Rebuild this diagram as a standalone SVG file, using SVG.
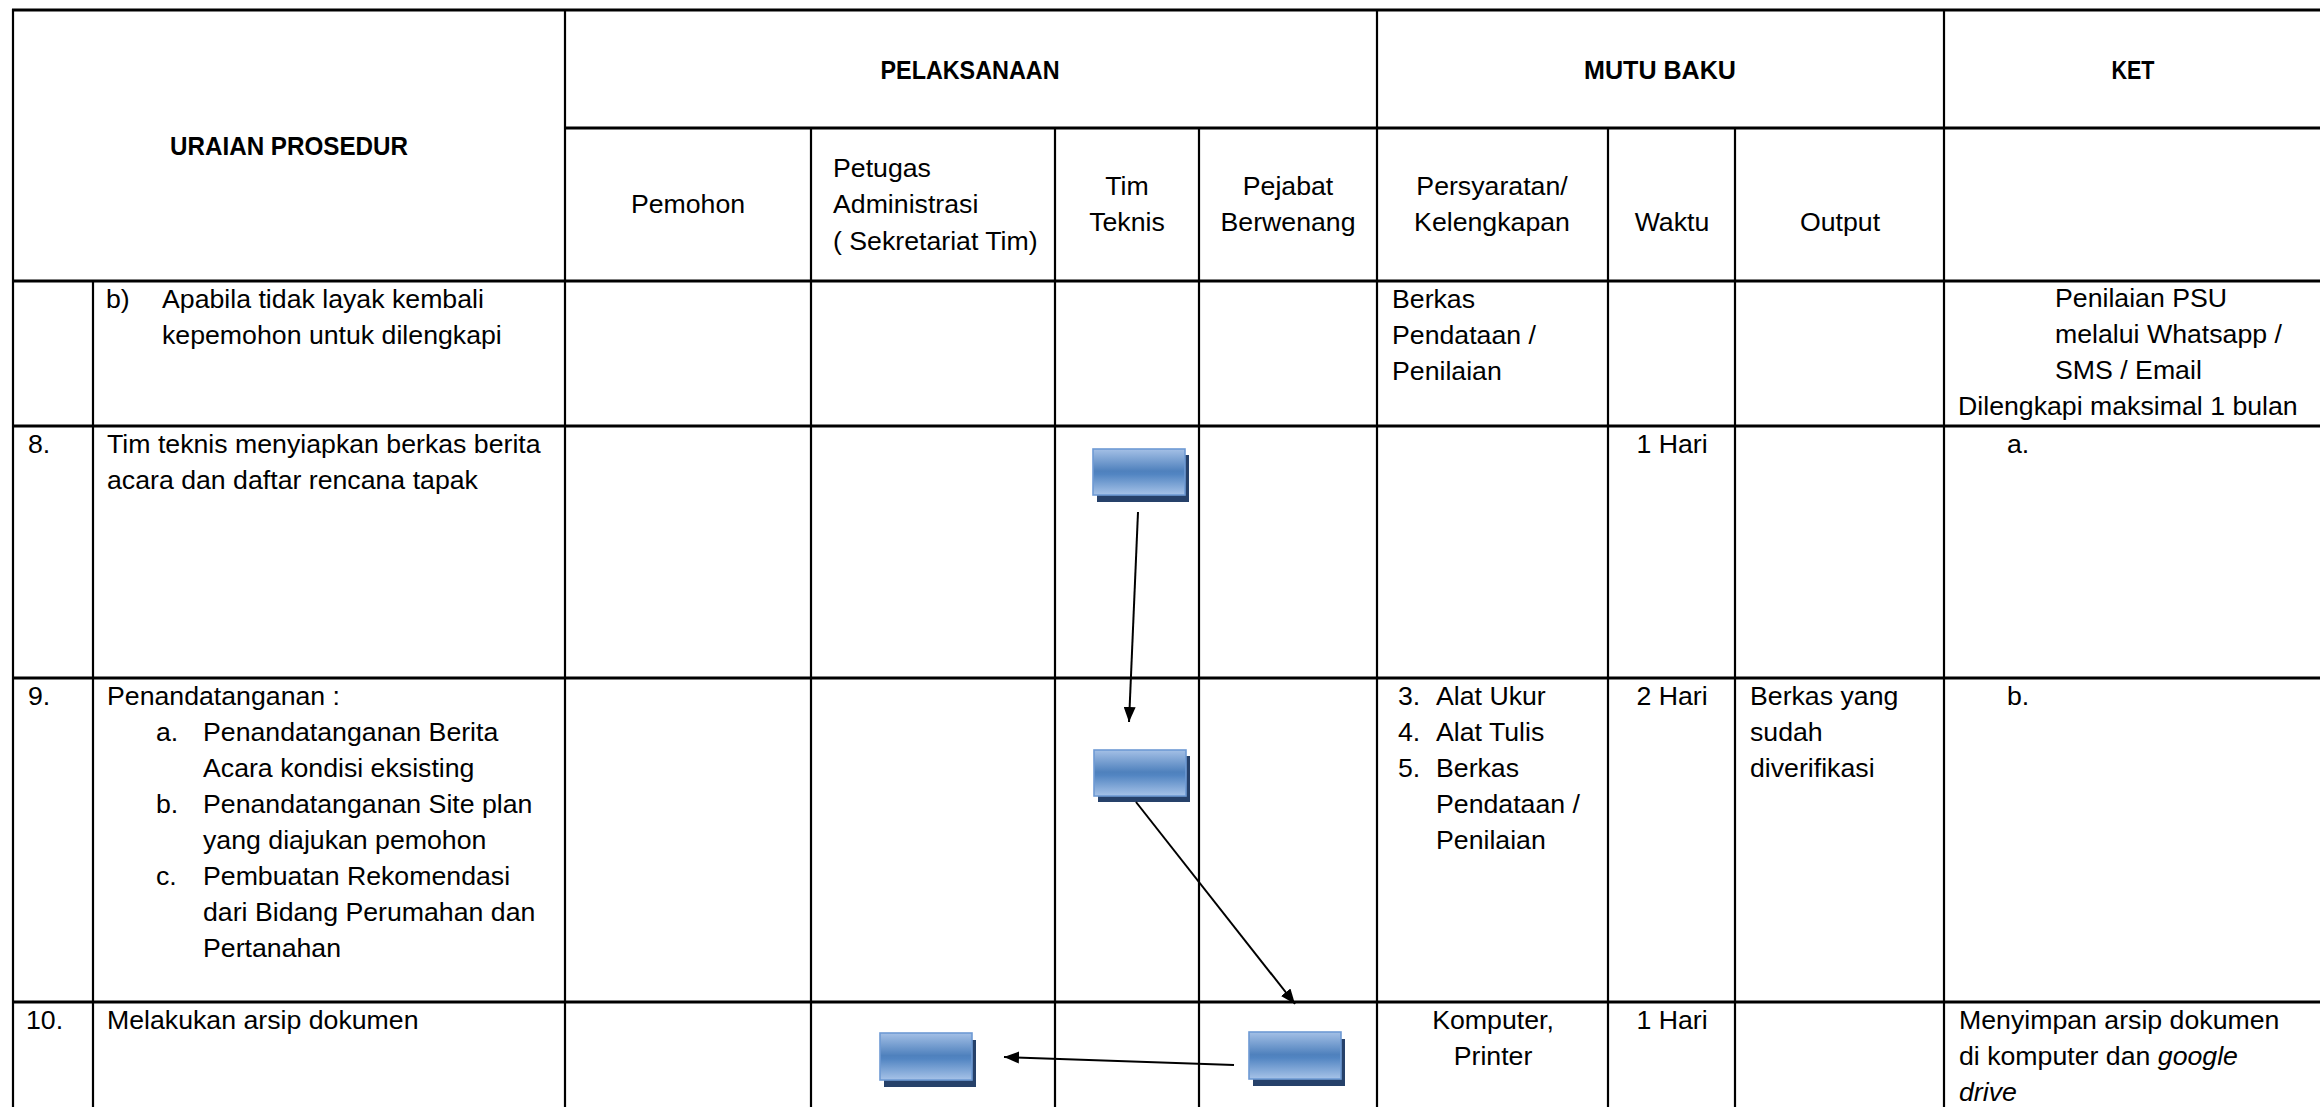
<svg xmlns="http://www.w3.org/2000/svg" width="2320" height="1107" viewBox="0 0 2320 1107">
<style>
.t{font-family:"Liberation Sans",Arial,sans-serif;font-size:26.7px;fill:#000}
.b{font-family:"Liberation Sans",Arial,sans-serif;font-size:26.5px;font-weight:bold;fill:#000}
.c{text-anchor:middle}
.h{stroke:#000;stroke-width:3;fill:none}
.v{stroke:#000;stroke-width:2.2;fill:none}
.face{fill:url(#g);stroke:#6e9ad4;stroke-width:1.6}
.shadow{fill:#26416a}
.arr{stroke:#000;stroke-width:2;fill:none;marker-end:url(#ah)}
</style>
<defs>
<linearGradient id="g" x1="0" y1="0" x2="0" y2="1">
<stop offset="0" stop-color="#a4c0e6"/>
<stop offset="0.48" stop-color="#4f81bd"/>
<stop offset="0.55" stop-color="#5285c2"/>
<stop offset="1" stop-color="#a7c3e8"/>
</linearGradient>
<marker id="ah" markerUnits="userSpaceOnUse" markerWidth="16" markerHeight="12" refX="15" refY="6" orient="auto">
<path d="M0,0 L15,6 L0,12 z" fill="#000"/>
</marker>
</defs>
<rect width="2320" height="1107" fill="#fff"/>

<g id="table-lines">
<line class="h" x1="12" y1="10" x2="2322" y2="10"/>
<line class="h" x1="565" y1="128" x2="2322" y2="128"/>
<line class="h" x1="12" y1="281" x2="2322" y2="281"/>
<line class="h" x1="12" y1="426" x2="2322" y2="426"/>
<line class="h" x1="12" y1="678" x2="2322" y2="678"/>
<line class="h" x1="12" y1="1002" x2="2322" y2="1002"/>
<line class="v" x1="13" y1="9" x2="13" y2="1107"/>
<line class="v" x1="93" y1="281" x2="93" y2="1107"/>
<line class="v" x1="565" y1="9" x2="565" y2="1107"/>
<line class="v" x1="811" y1="128" x2="811" y2="1107"/>
<line class="v" x1="1055" y1="128" x2="1055" y2="1107"/>
<line class="v" x1="1199" y1="128" x2="1199" y2="1107"/>
<line class="v" x1="1377" y1="9" x2="1377" y2="1107"/>
<line class="v" x1="1608" y1="128" x2="1608" y2="1107"/>
<line class="v" x1="1735" y1="128" x2="1735" y2="1107"/>
<line class="v" x1="1944" y1="9" x2="1944" y2="1107"/>
</g>

<g id="header">
<text class="b c" x="289" y="155" textLength="238" lengthAdjust="spacingAndGlyphs">URAIAN PROSEDUR</text>
<text class="b c" x="970" y="79" textLength="179" lengthAdjust="spacingAndGlyphs">PELAKSANAAN</text>
<text class="b c" x="1660" y="79" textLength="152" lengthAdjust="spacingAndGlyphs">MUTU BAKU</text>
<text class="b c" x="2133" y="79" textLength="43" lengthAdjust="spacingAndGlyphs">KET</text>
<text class="t c" x="688" y="213">Pemohon</text>
<text class="t" x="833" y="177">Petugas</text>
<text class="t" x="833" y="213">Administrasi</text>
<text class="t" x="833" y="250">( Sekretariat Tim)</text>
<text class="t c" x="1127" y="195">Tim</text>
<text class="t c" x="1127" y="231">Teknis</text>
<text class="t c" x="1288" y="195">Pejabat</text>
<text class="t c" x="1288" y="231">Berwenang</text>
<text class="t c" x="1492" y="195">Persyaratan/</text>
<text class="t c" x="1492" y="231">Kelengkapan</text>
<text class="t c" x="1672" y="231">Waktu</text>
<text class="t c" x="1840" y="231">Output</text>
</g>

<g id="row-b">
<text class="t" x="106" y="308">b)</text>
<text class="t" x="162" y="308">Apabila tidak layak kembali</text>
<text class="t" x="162" y="344">kepemohon untuk dilengkapi</text>
<text class="t" x="1392" y="308">Berkas</text>
<text class="t" x="1392" y="344">Pendataan /</text>
<text class="t" x="1392" y="380">Penilaian</text>
<text class="t" x="2055" y="307">Penilaian PSU</text>
<text class="t" x="2055" y="343">melalui Whatsapp /</text>
<text class="t" x="2055" y="379">SMS / Email</text>
<text class="t" x="1958" y="415">Dilengkapi maksimal 1 bulan</text>
</g>

<g id="row-8">
<text class="t" x="28" y="453">8.</text>
<text class="t" x="107" y="453">Tim teknis menyiapkan berkas berita</text>
<text class="t" x="107" y="489">acara dan daftar rencana tapak</text>
<text class="t c" x="1672" y="453">1 Hari</text>
<text class="t" x="2007" y="453">a.</text>
</g>

<g id="row-9">
<text class="t" x="28" y="705">9.</text>
<text class="t" x="107" y="705">Penandatanganan :</text>
<text class="t" x="156" y="741">a.</text>
<text class="t" x="203" y="741">Penandatanganan Berita</text>
<text class="t" x="203" y="777">Acara kondisi eksisting</text>
<text class="t" x="156" y="813">b.</text>
<text class="t" x="203" y="813">Penandatanganan Site plan</text>
<text class="t" x="203" y="849">yang diajukan pemohon</text>
<text class="t" x="156" y="885">c.</text>
<text class="t" x="203" y="885">Pembuatan Rekomendasi</text>
<text class="t" x="203" y="921">dari Bidang Perumahan dan</text>
<text class="t" x="203" y="957">Pertanahan</text>
<text class="t" x="1398" y="705">3.</text>
<text class="t" x="1436" y="705">Alat Ukur</text>
<text class="t" x="1398" y="741">4.</text>
<text class="t" x="1436" y="741">Alat Tulis</text>
<text class="t" x="1398" y="777">5.</text>
<text class="t" x="1436" y="777">Berkas</text>
<text class="t" x="1436" y="813">Pendataan /</text>
<text class="t" x="1436" y="849">Penilaian</text>
<text class="t c" x="1672" y="705">2 Hari</text>
<text class="t" x="1750" y="705">Berkas yang</text>
<text class="t" x="1750" y="741">sudah</text>
<text class="t" x="1750" y="777">diverifikasi</text>
<text class="t" x="2007" y="705">b.</text>
</g>

<g id="row-10">
<text class="t" x="26" y="1029">10.</text>
<text class="t" x="107" y="1029">Melakukan arsip dokumen</text>
<text class="t c" x="1493" y="1029">Komputer,</text>
<text class="t c" x="1493" y="1065">Printer</text>
<text class="t c" x="1672" y="1029">1 Hari</text>
<text class="t" x="1959" y="1029">Menyimpan arsip dokumen</text>
<text class="t" x="1959" y="1065">di komputer dan <tspan font-style="italic">google</tspan></text>
<text class="t" x="1959" y="1101" font-style="italic">drive</text>
</g>

<g id="node-1">
<rect class="shadow" x="1097" y="455" width="92" height="47"/>
<rect class="face" x="1093" y="449" width="92" height="46"/>
</g>
<g id="node-2">
<rect class="shadow" x="1098" y="756" width="92" height="46"/>
<rect class="face" x="1094" y="750" width="92" height="46"/>
</g>
<g id="node-3">
<rect class="shadow" x="884" y="1040" width="92" height="47"/>
<rect class="face" x="880" y="1033" width="92" height="47"/>
</g>
<g id="node-4">
<rect class="shadow" x="1253" y="1039" width="92" height="47"/>
<rect class="face" x="1249" y="1032" width="92" height="47"/>
</g>

<g id="connectors">
<line class="arr" x1="1138" y1="512" x2="1129" y2="722"/>
<line class="arr" x1="1136" y1="802" x2="1295" y2="1004"/>
<line class="arr" x1="1234" y1="1065" x2="1004" y2="1057" stroke-width="3"/>
</g>
</svg>
